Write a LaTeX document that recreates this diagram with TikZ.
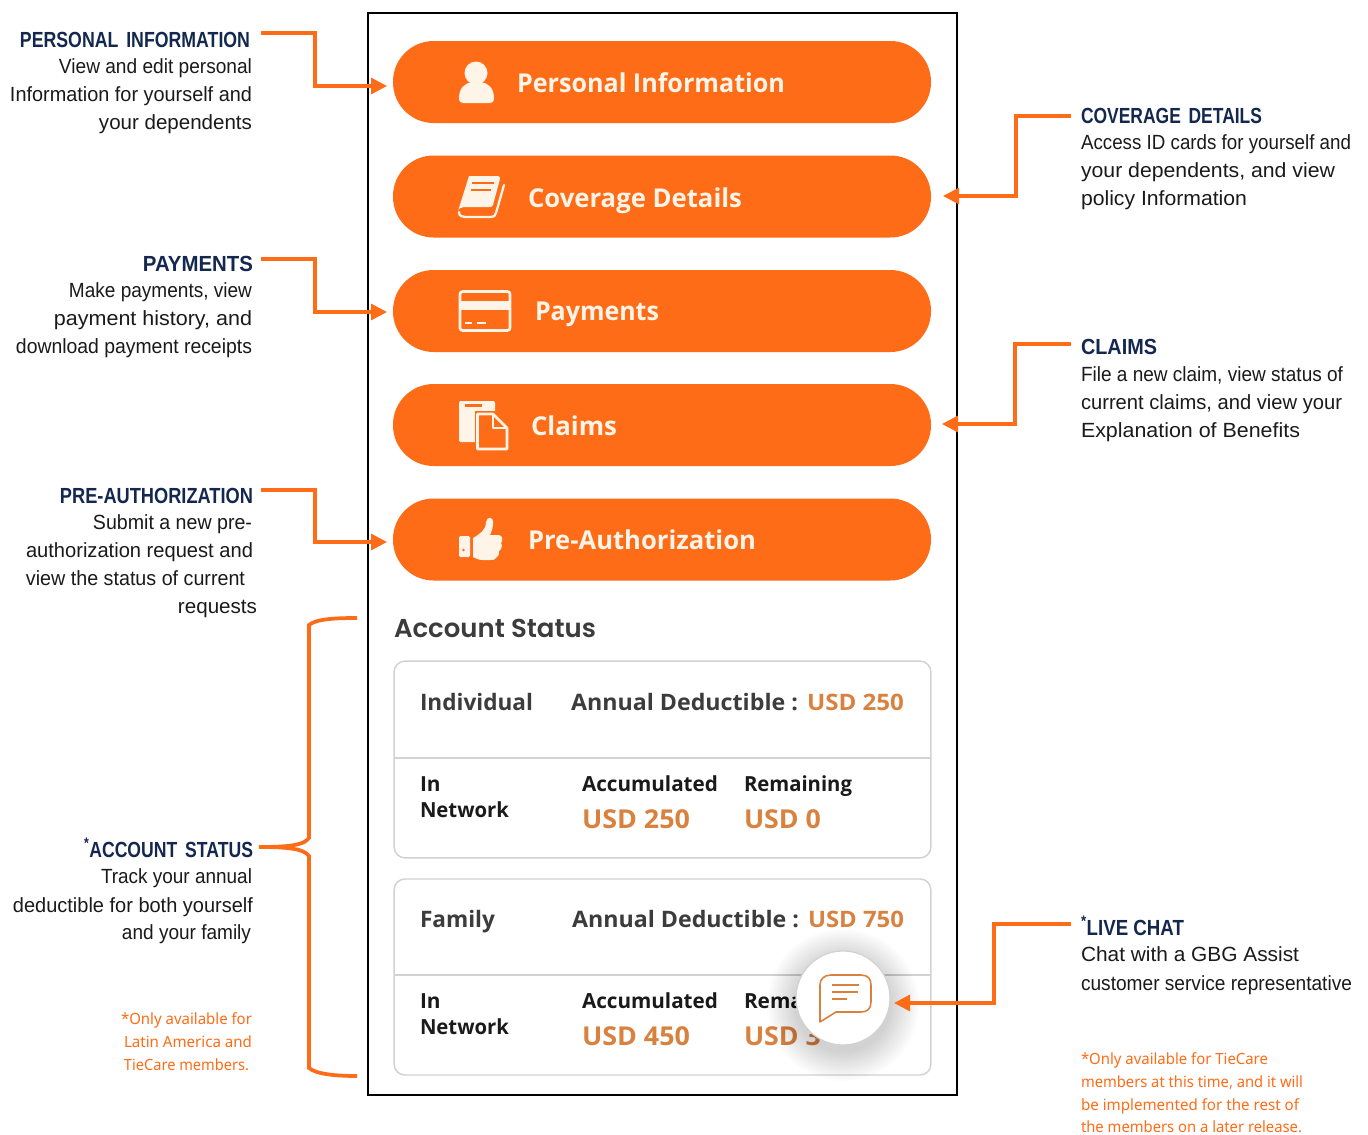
\documentclass[tikz,border=0pt]{standalone}
\usepackage{graphicx}
\usepackage{fontspec}
\usetikzlibrary{arrows.meta}
\setmainfont{Liberation Sans}
\newfontfamily\uifont{Open Sans}
\newfontfamily\headfont{Poppins SemiBold}
\newfontfamily\notefont{Noto Sans}
\newcommand{\fw}[2]{\resizebox{\dimexpr #1pt*3/4\relax}{\height}{#2}}
\definecolor{brand}{HTML}{FF6C17}
\definecolor{cream}{HTML}{FFF4E8}
\definecolor{navy}{HTML}{14284F}
\definecolor{amber}{HTML}{D9823F}
\definecolor{cardline}{HTML}{D2D2D2}
\definecolor{ink}{HTML}{1A1A1A}
\definecolor{slate}{HTML}{3C3C3C}
\tikzset{
  x=0.75pt,y=-0.75pt,
  txt/.style={inner sep=0pt,outer sep=0pt},
  hdl/.style={txt,anchor=base east,text=navy,font=\bfseries\fontsize{16.4pt}{18pt}\selectfont},
  hdr/.style={txt,anchor=base west,text=navy,font=\bfseries\fontsize{16.4pt}{18pt}\selectfont},
  bdl/.style={txt,anchor=base east,text=ink,font=\fontsize{15.4pt}{18pt}\selectfont},
  bdr/.style={txt,anchor=base west,text=ink,font=\fontsize{15.4pt}{18pt}\selectfont},
  ntl/.style={txt,anchor=base east,text=brand,font=\notefont\fontsize{11.6pt}{14pt}\selectfont},
  ntr/.style={txt,anchor=base west,text=brand,font=\notefont\fontsize{11.6pt}{14pt}\selectfont},
  btn/.style={fill=brand,draw=none,rounded corners=30.5pt,minimum width=403.5pt,minimum height=61.5pt,inner sep=0pt,outer sep=0pt},
  btxt/.style={txt,anchor=base west,text=cream,font=\uifont\bfseries\fontsize{19.5pt}{24pt}\selectfont},
  card/.style={draw=cardline,line width=1.1pt,fill=white,rounded corners=8pt,minimum width=402.5pt,inner sep=0pt,outer sep=0pt},
  clab/.style={txt,anchor=base west,text=slate,font=\uifont\bfseries\fontsize{17pt}{20pt}\selectfont},
  cdark/.style={txt,anchor=base west,text=ink,font=\uifont\bfseries\fontsize{15.6pt}{20pt}\selectfont},
  cval/.style={txt,anchor=base west,text=amber,font=\uifont\bfseries\fontsize{17pt}{20pt}\selectfont},
  cbig/.style={txt,anchor=base west,text=amber,font=\uifont\bfseries\fontsize{19.5pt}{20pt}\selectfont},
  conn/.style={draw=brand,line width=2.4pt,-{Triangle[length=12pt,width=12pt]}},
  icon/.style={fill=cream,draw=none},
  iconl/.style={draw=cream,line width=1.7pt,fill=none},
}
\begin{document}
\begin{tikzpicture}
\useasboundingbox (0,0) rectangle (1368,1135);
\fill[white] (0,0) rectangle (1368,1135);

% phone frame
\node[draw=black,line width=1.6pt,minimum width=441.5pt,minimum height=811.5pt,inner sep=0pt,outer sep=0pt] (frame) at (662.5,554) {};

% buttons
\node[btn] (b1) at (662,82) {};
\node[btn] (b2) at (662,196.5) {};
\node[btn] (b3) at (662,311) {};
\node[btn] (b4) at (662,425) {};
\node[btn] (b5) at (662,539.5) {};
\node[btxt] (t1) at (517,92) {\fw{268}{Personal Information}};
\node[btxt] (t2) at (528,207) {\fw{214}{Coverage Details}};
\node[btxt] (t3) at (535,320) {\fw{124}{Payments}};
\node[btxt] (t4) at (531,435) {\fw{86}{Claims}};
\node[btxt] (t5) at (528,549) {\fw{228}{Pre-Authorization}};

% person icon
\fill[icon] (476,73) circle (11.5);
\fill[icon] (459,98) .. controls (459,88) and (465,83) .. (472,82) -- (481,82) .. controls (488,83) and (494,88) .. (494,98) .. controls (494,102) and (492,103) .. (490,103) -- (463,103) .. controls (461,103) and (459,102) .. (459,98) -- cycle;
% book icon
\fill[icon] (469,176) -- (498,176) .. controls (500,176) and (500,178) .. (500,179) -- (493,205) .. controls (492,207) and (491,207) .. (489,207) -- (464,207) .. controls (461,207) and (458,209) .. (458,211) -- cycle;
\draw[draw=brand,line width=1.5pt] (472,183) -- (494,183) (471,190) -- (491,190);
\draw[iconl,line cap=round] (459,212) .. controls (459,216) and (462,217) .. (465,217) -- (491,217) .. controls (494,217) and (495,216) .. (496,213) -- (504,185);
% card icon
\draw[iconl,line width=2pt,rounded corners=2pt] (460,291.5) rectangle (510,330.5);
\fill[icon] (460,301) rectangle (510,310);
\draw[iconl] (465,323) -- (472,323) (477,323) -- (486,323);
% claims icon
\fill[icon,rounded corners=1pt] (459,401) rectangle (495,442);
\fill[brand] (465,404) rectangle (482,407);
\fill[brand] (475,411) -- (495,411) -- (510,427) -- (510,451) -- (475,451) -- cycle;
\draw[iconl,line width=2pt,line join=round,fill=brand] (477.5,414) -- (493,414) -- (507,428) -- (507,449) -- (477.5,449) -- cycle;
\draw[iconl,line width=2pt,line join=round] (493,414) -- (493,428) -- (507,428);
% thumb icon
\fill[icon,rounded corners=1pt] (459,536) rectangle (470,557);
\fill[brand] (463.5,550) circle (1.4);
\fill[icon] (473,538) .. controls (480,534) and (486,530) .. (486,522) .. controls (487,516) and (494,516) .. (493,524) .. controls (493,529) and (491,532) .. (490,535) -- (499,535) .. controls (503,536) and (503,541) .. (501,543) .. controls (503,546) and (501,550) .. (499,551) .. controls (500,554) and (498,557) .. (496,558) .. controls (495,560) and (493,560) .. (490,560) -- (482,560) .. controls (478,560) and (476,558) .. (473,557) -- cycle;

% account status
\node[txt,anchor=base west,text=slate,font=\headfont\fontsize{19.4pt}{24pt}\selectfont] (ast) at (394,637) {\fw{202}{Account Status}};

% cards
\node[card,minimum height=147.5pt] (c1) at (662.5,759.5) {};
\node[card,minimum height=147pt] (c2) at (662.5,977) {};
\draw[cardline,line width=1.1pt] (c1.west |- 0,758) -- (c1.east |- 0,758);
\draw[cardline,line width=1.1pt] (c2.west |- 0,975) -- (c2.east |- 0,975);

\node[clab] (i1) at (420,710) {\fw{113}{Individual}};
\node[clab] (i2) at (571,710) {\fw{227}{Annual Deductible :}};
\node[cval] (i3) at (807,710) {\fw{97}{USD 250}};
\node[cdark] (i4) at (420,791) {In};
\node[cdark] (i5) at (420,817) {\fw{89}{Network}};
\node[cdark] (i6) at (582,791) {\fw{136}{Accumulated}};
\node[cdark] (i7) at (744,791) {\fw{108}{Remaining}};
\node[cbig] (i8) at (582,828) {\fw{108}{USD 250}};
\node[cbig] (i9) at (744,828) {\fw{77}{USD 0}};

\node[clab] (f1) at (420,927) {\fw{75}{Family}};
\node[clab] (f2) at (572,927) {\fw{227}{Annual Deductible :}};
\node[cval] (f3) at (808,927) {\fw{96}{USD 750}};
\node[cdark] (f4) at (420,1008) {In};
\node[cdark] (f5) at (420,1034) {\fw{89}{Network}};
\node[cdark] (f6) at (582,1008) {\fw{136}{Accumulated}};
\node[cdark] (f7) at (744,1008) {Rema};
\node[cbig] (f8) at (582,1045) {\fw{108}{USD 450}};
\node[cbig] (f9) at (744,1045) {\fw{77}{USD 3}};

% chat bubble with soft shadow
\foreach \r in {76,74,...,48}{\fill[black,opacity=0.011] (843,1005) circle (\r);}
\node[circle,fill=white,draw=cardline,line width=0.9pt,minimum size=70.5pt,inner sep=0pt,outer sep=0pt] (chat) at (843,998) {};
\draw[amber,line width=1.2pt,line join=round] (831,975) -- (861,975) .. controls (868,975) and (871,979) .. (871,985) -- (871,1002) .. controls (871,1009) and (867,1012) .. (861,1012) -- (836,1012) -- (820,1022) -- (820,985) .. controls (820,979) and (824,975) .. (831,975) -- cycle;
\draw[amber,line width=1.2pt] (832,985) -- (859,985) (832,992) -- (858,992) (832,999) -- (847,999);

% left labels
\node[hdl] (l1) at (250,47) {\fw{230}{PERSONAL\, INFORMATION}};
\node[bdl] (l1a) at (252,73) {\fw{193}{View and edit personal}};
\node[bdl] (l1b) at (252,101) {\fw{242}{Information for yourself and}};
\node[bdl] (l1c) at (252,129) {\fw{153}{your dependents}};
\node[hdl] (l2) at (253,271) {\fw{110}{PAYMENTS}};
\node[bdl] (l2a) at (252,297) {\fw{183}{Make payments, view}};
\node[bdl] (l2b) at (252,325) {\fw{198}{payment history, and}};
\node[bdl] (l2c) at (252,353) {\fw{236}{download payment receipts}};
\node[hdl] (l3) at (253,503) {\fw{193}{PRE-AUTHORIZATION}};
\node[bdl] (l3a) at (252,529) {\fw{159}{Submit a new pre-}};
\node[bdl] (l3b) at (253,557) {\fw{227}{authorization request and}};
\node[bdl] (l3c) at (245,585) {\fw{219}{view the status of current}};
\node[bdl] (l3d) at (257,613) {\fw{79}{requests}};
\node[hdl] (l4) at (253,857) {\fw{169}{\textsuperscript{*}ACCOUNT\, STATUS}};
\node[bdl] (l4a) at (252,883) {\fw{151}{Track your annual}};
\node[bdl] (l4b) at (253,912) {\fw{240}{deductible for both yourself}};
\node[bdl] (l4c) at (251,939) {\fw{129}{and your family}};
\node[ntl] (l4d) at (252,1024) {\fw{131}{*Only available for}};
\node[ntl] (l4e) at (252,1047) {\fw{128}{Latin America and}};
\node[ntl] (l4f) at (249,1070) {\fw{125}{TieCare members.}};

% right labels
\node[hdr] (r1) at (1081,123) {\fw{181}{COVERAGE\, DETAILS}};
\node[bdr] (r1a) at (1081,149) {\fw{270}{Access ID cards for yourself and}};
\node[bdr] (r1b) at (1081,177) {\fw{254}{your dependents, and view}};
\node[bdr] (r1c) at (1081,205) {\fw{166}{policy Information}};
\node[hdr] (r2) at (1081,354) {\fw{76}{CLAIMS}};
\node[bdr] (r2a) at (1081,381) {\fw{262}{File a new claim, view status of}};
\node[bdr] (r2b) at (1081,409) {\fw{261}{current claims, and view your}};
\node[bdr] (r2c) at (1081,437) {\fw{219}{Explanation of Benefits}};
\node[hdr] (r3) at (1081,935) {\fw{103}{\textsuperscript{*}LIVE CHAT}};
\node[bdr] (r3a) at (1081,961) {\fw{218}{Chat with a GBG Assist}};
\node[bdr] (r3b) at (1081,990) {\fw{271}{customer service representative}};
\node[ntr] (r3c) at (1081,1064) {\fw{187}{*Only available for TieCare}};
\node[ntr] (r3d) at (1081,1087) {\fw{222}{members at this time, and it will}};
\node[ntr] (r3e) at (1081,1110) {\fw{218}{be implemented for the rest of}};
\node[ntr] (r3f) at (1081,1132.5) {\fw{221}{the members on a later release.}};

% connector ends
\coordinate (s1) at (261,33);
\coordinate (s2) at (261,259);
\coordinate (s3) at (261,490);
\coordinate (s4) at (1071,116);
\coordinate (s5) at (1071,344);
\coordinate (s6) at (1071,924);
\coordinate (e1) at (387,86);
\coordinate (e2) at (387,312);
\coordinate (e3) at (387,542);
\coordinate (e4) at (943,196);
\coordinate (e5) at (942,424);
\coordinate (e6) at (894,1003);

\draw[conn] (s1) -- (315,33) -- (315,86) -- (e1);
\draw[conn] (s2) -- (315,259) -- (315,312) -- (e2);
\draw[conn] (s3) -- (315,490) -- (315,542) -- (e3);
\draw[conn] (s4) -- (1016,116) -- (1016,196) -- (e4);
\draw[conn] (s5) -- (1015,344) -- (1015,424) -- (e5);
\draw[conn] (s6) -- (994,924) -- (994,1003) -- (e6);

% brace
\draw[brand,line width=2.8pt] (357,618) .. controls (335,618) and (316,619) .. (309,625) -- (309,838) .. controls (304,845) and (290,847) .. (259,847) .. controls (290,847) and (304,849) .. (309,856) -- (309,1068) .. controls (316,1074) and (335,1076) .. (357,1076);
\end{tikzpicture}
\end{document}
